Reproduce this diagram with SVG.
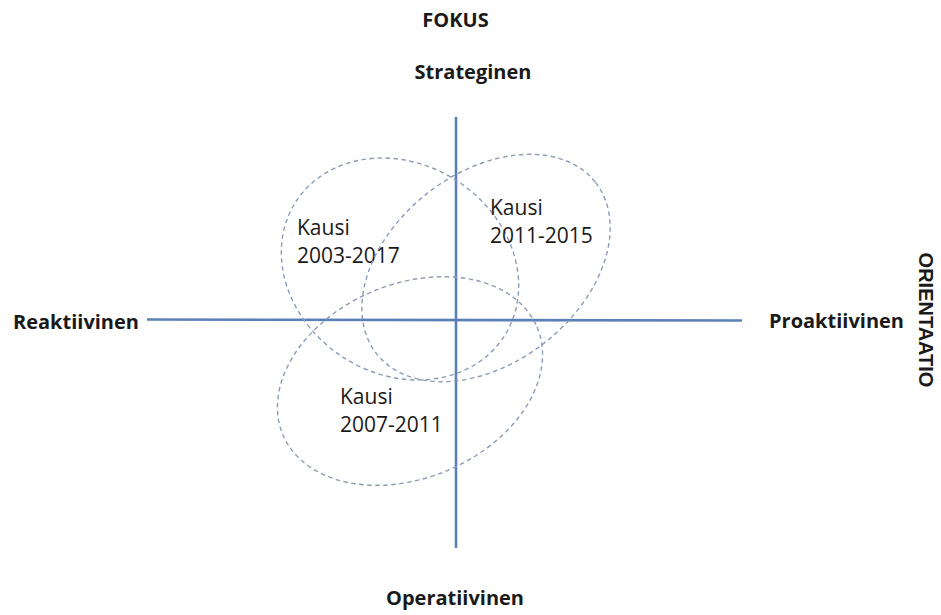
<svg xmlns="http://www.w3.org/2000/svg" width="941" height="615" viewBox="0 0 941 615">
<style>
.lbl{font-family:"Open Sans","Noto Sans","Liberation Sans",sans-serif;font-weight:700;font-size:20px;fill:#1a1a1a}
.k{font-family:"Open Sans","Noto Sans","Liberation Sans",sans-serif;font-size:21px;fill:#1a1a1a}
.axis{stroke:#5a80b6;stroke-width:2.6;fill:none}
.ell{stroke:#8d9cb6;stroke-width:1.4;stroke-dasharray:4.5 3.5;fill:none}
</style>
<rect width="941" height="615" fill="#ffffff"/>
<g id="connectors">
<line class="axis" x1="147" y1="319.5" x2="742" y2="320.5"/>
<line class="axis" x1="456" y1="117" x2="456" y2="548"/>
</g>
<g id="kausi-2003-2017">
<ellipse class="ell" cx="400" cy="269" rx="124" ry="105" transform="rotate(33 400 269)"/>
<text class="k" x="297" y="235">Kausi</text>
<text class="k" x="297" y="263">2003-2017</text>
</g>
<g id="kausi-2011-2015">
<ellipse class="ell" cx="486" cy="268" rx="139" ry="95" transform="rotate(-38 486 268)"/>
<text class="k" x="490" y="215">Kausi</text>
<text class="k" x="490" y="243">2011-2015</text>
</g>
<g id="kausi-2007-2011">
<ellipse class="ell" cx="410" cy="381" rx="138" ry="97" transform="rotate(-23 410 381)"/>
<text class="k" x="340" y="404">Kausi</text>
<text class="k" x="340" y="432">2007-2011</text>
</g>
<g id="fokus"><text class="lbl" x="455.5" y="27" text-anchor="middle">FOKUS</text></g>
<g id="strateginen"><text class="lbl" x="473" y="79" text-anchor="middle">Strateginen</text></g>
<g id="operatiivinen"><text class="lbl" x="455" y="605" text-anchor="middle">Operatiivinen</text></g>
<g id="reaktiivinen"><text class="lbl" x="13" y="329">Reaktiivinen</text></g>
<g id="proaktiivinen"><text class="lbl" x="769" y="328">Proaktiivinen</text></g>
<g id="orientaatio"><text transform="translate(919 320) rotate(90)" x="0" y="0" text-anchor="middle" style="font-family:'Liberation Sans',Arial,sans-serif;font-weight:700;font-size:20px;fill:#1a1a1a">ORIENTAATIO</text></g>
</svg>
